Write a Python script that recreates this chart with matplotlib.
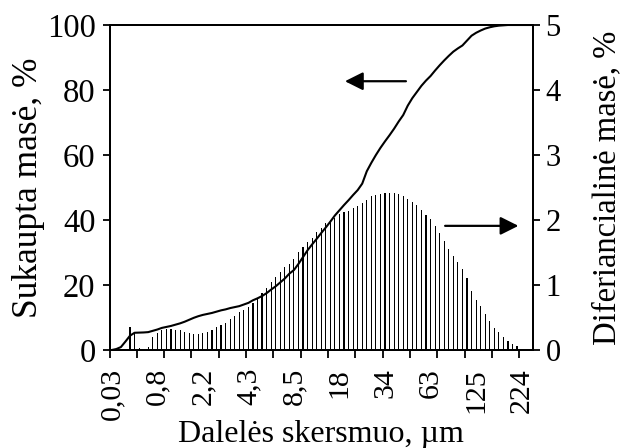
import numpy as np
import matplotlib
matplotlib.use("Agg")
import matplotlib.pyplot as plt

plt.rcParams['font.family'] = ['Liberation Serif', 'DejaVu Serif']

# ---- data ----
tick_labels = ['0,03', '0,8', '2,2', '4,3', '8,5', '18', '34', '63', '125', '224']
label_every = 10
tick_every = 6

diff_mass = [0, 0, 0, 0, 0.36, 0.26, 0.03, 0.02, 0.05, 0.20,
             0.26, 0.31, 0.32, 0.32, 0.31, 0.30, 0.28, 0.26, 0.25, 0.24,
             0.26, 0.27, 0.31, 0.35, 0.38, 0.42, 0.47, 0.53, 0.58, 0.62,
             0.66, 0.73, 0.79, 0.87, 0.95, 1.04, 1.12, 1.20, 1.27, 1.33,
             1.40, 1.50, 1.58, 1.66, 1.73, 1.81, 1.88, 1.95, 2.00, 2.03,
             2.09, 2.12, 2.14, 2.18, 2.22, 2.26, 2.31, 2.37, 2.38, 2.40,
             2.41, 2.42, 2.41, 2.40, 2.37, 2.33, 2.28, 2.23, 2.15, 2.08,
             2.01, 1.90, 1.80, 1.67, 1.56, 1.45, 1.36, 1.24, 1.10, 0.90,
             0.77, 0.68, 0.55, 0.45, 0.34, 0.27, 0.20, 0.14, 0.09, 0.06,
             0, 0, 0]

cum_mass = [0, 0.3, 0.9, 2.6, 4.4, 5.3, 5.35, 5.4, 5.5, 5.9,
            6.3, 6.8, 7.1, 7.4, 7.8, 8.2, 8.7, 9.3, 9.9, 10.4,
            10.8, 11.1, 11.4, 11.8, 12.2, 12.5, 12.9, 13.2, 13.5, 14.0,
            14.5, 15.3, 15.9, 16.6, 17.5, 18.6, 19.6, 20.8, 22.0, 23.5,
            24.6, 26.5, 28.6, 30.7, 32.5, 34.2, 36.0, 37.7, 39.5, 41.4,
            43.0, 44.6, 46.1, 47.7, 49.2, 51.2, 55.0, 57.6, 60.0, 62.2,
            64.2, 66.1, 68.1, 70.3, 72.3, 75.2, 77.5, 79.4, 81.3, 82.9,
            84.3, 86.0, 87.6, 89.1, 90.5, 91.8, 92.8, 93.7, 95.2, 96.7,
            97.6, 98.3, 98.9, 99.3, 99.6, 99.8, 99.9, 100, 100, 100,
            100, 100, 100]

left_arrow = dict(tail=(64.6, 82.7), tip=(51.2, 82.7))
right_arrow = dict(tail=(73.2, 38.2), tip=(89.3, 38.2))

n = len(diff_mass)
x = np.arange(n)

W, H = 623, 448
fig = plt.figure(figsize=(W / 100, H / 100), dpi=100)
ax = fig.add_axes([109.5 / W, 1 - 350 / H, (533 - 109.5) / W, 325 / H])
ax2 = ax.twinx()

ax2.bar(x, diff_mass, width=0.25, color='black', linewidth=0)
ax.plot(x, cum_mass, color='black', lw=1.5, solid_joinstyle='round')

ax.set_zorder(ax2.get_zorder() + 1)
ax.patch.set_visible(False)

ax.set_xlim(-0.5, n - 0.5)
ax.set_ylim(0, 100)
ax2.set_ylim(0, 5)

ax.set_yticks(np.arange(0, 101, 20))
ax2.set_yticks(np.arange(0, 6, 1))

ax.set_xticks(np.arange(-0.5, n - 1, tick_every))
ax.set_xticklabels([])
ax.set_xticks(np.arange(0, n, label_every)[:len(tick_labels)], minor=True)
ax.set_xticklabels(tick_labels, minor=True, rotation=90)

ax.tick_params(axis='y', direction='out', length=5, width=1.3, labelsize=23.5, pad=5)
ax2.tick_params(axis='y', direction='out', length=5, width=1.3, labelsize=22, pad=4)
ax.tick_params(axis='x', which='major', direction='out', length=6, width=1.3)
ax.tick_params(axis='x', which='minor', length=0, labelsize=21.5, pad=13)

for a in (ax, ax2):
    for s in a.spines.values():
        s.set_linewidth(1.4)
        s.set_color('black')

ax.set_ylabel('Sukaupta masė, %', fontsize=25.5, labelpad=1)
ax2.set_ylabel('Diferiancialinė masė, %', fontsize=23.5, labelpad=22)
ax.set_xlabel('Dalelės skersmuo, µm', fontsize=23, labelpad=0)

for arr in (left_arrow, right_arrow):
    ax.annotate('', xy=arr['tip'], xytext=arr['tail'],
                arrowprops=dict(arrowstyle='-|>,head_length=1.1,head_width=0.55',
                                mutation_scale=10, lw=1.6, color='black',
                                shrinkA=0, shrinkB=0))

fig.savefig('out.png', dpi=100)
